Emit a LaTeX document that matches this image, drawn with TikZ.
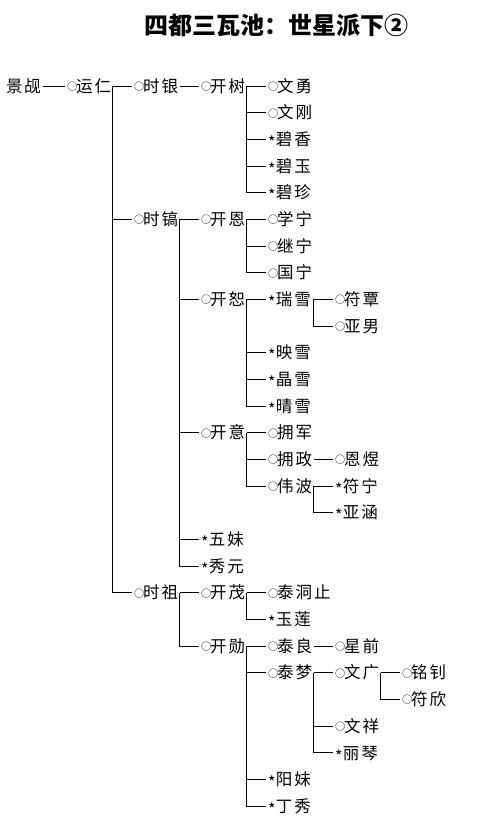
\documentclass[tikz,border=0pt]{standalone}
\usepackage{fontspec}
\setmainfont{Noto Sans CJK SC}
\usepackage{tikz}
\usetikzlibrary{positioning, calc}

\newcommand{\ml}{\raisebox{1.7pt}{\fontsize{10.2}{10.2}\selectfont ○}\kern-1pt}
\newcommand{\fm}{\raisebox{-3pt}{\fontsize{16}{16}\selectfont *}\kern0.5pt}

\begin{document}
\begin{tikzpicture}[
    x=67pt, y=-26.67pt,
    person/.style={anchor=west, inner sep=0pt, outer sep=2pt, text height=13pt, text depth=0.5pt, font=\fontsize{16.5}{18}\selectfont\addfontfeature{LetterSpace=12}},
    heading/.style={font=\fontsize{24}{28}\selectfont\bfseries},
    link/.style={line width=0.9pt}
]
\useasboundingbox (0pt,0pt) rectangle (483pt,-824pt);
\node[heading] (head) at (276pt,-25pt) {四都三瓦池：世星派下②};
\node[person] (jingguan) at (4pt,-86pt) {景觇};
\begin{scope}[shift={(-2pt,-59.33pt)}]
% generation 1 and 2
\node[person] (yunren) at (1,1) {\ml 运仁};
\node[person] (shiyin) at (2,1) {\ml 时银};
\node[person] (shigao) at (2,6) {\ml 时镐};
\node[person] (shizu) at (2,20) {\ml 时祖};
% generation 3
\node[person] (kaishu) at (3,1) {\ml 开树};
\node[person] (kaien) at (3,6) {\ml 开恩};
\node[person] (kaishuu) at (3,9) {\ml 开恕};
\node[person] (kaiyi) at (3,14) {\ml 开意};
\node[person] (wumei) at (3,18) {\fm 五妹};
\node[person] (xiuyuan) at (3,19) {\fm 秀元};
\node[person] (kaimao) at (3,20) {\ml 开茂};
\node[person] (kaixun) at (3,22) {\ml 开勋};
% generation 4
\node[person] (wenyong) at (4,1) {\ml 文勇};
\node[person] (wengang) at (4,2) {\ml 文刚};
\node[person] (bixiang) at (4,3) {\fm 碧香};
\node[person] (biyu) at (4,4) {\fm 碧玉};
\node[person] (bizhen) at (4,5) {\fm 碧珍};
\node[person] (xuening) at (4,6) {\ml 学宁};
\node[person] (jining) at (4,7) {\ml 继宁};
\node[person] (guoning) at (4,8) {\ml 国宁};
\node[person] (ruixue) at (4,9) {\fm 瑞雪};
\node[person] (yingxue) at (4,11) {\fm 映雪};
\node[person] (jingxue) at (4,12) {\fm 晶雪};
\node[person] (qingxue) at (4,13) {\fm 晴雪};
\node[person] (yongjun) at (4,14) {\ml 拥军};
\node[person] (yongzheng) at (4,15) {\ml 拥政};
\node[person] (weibo) at (4,16) {\ml 伟波};
\node[person] (taidongzhi) at (4,20) {\ml 泰洞止};
\node[person] (yulian) at (4,21) {\fm 玉莲};
\node[person] (tailiang) at (4,22) {\ml 泰良};
\node[person] (taimeng) at (4,23) {\ml 泰梦};
\node[person] (yangmei) at (4,27) {\fm 阳妹};
\node[person] (dingxiu) at (4,28) {\fm 丁秀};
% generation 5 and 6
\node[person] (futan) at (5,9) {\ml 符覃};
\node[person] (yanan) at (5,10) {\ml 亚男};
\node[person] (enyu) at (5,15) {\ml 恩煜};
\node[person] (funing) at (5,16) {\fm 符宁};
\node[person] (yahan) at (5,17) {\fm 亚涵};
\node[person] (xingqian) at (5,22) {\ml 星前};
\node[person] (wenguang) at (5,23) {\ml 文广};
\node[person] (wenxiang) at (5,25) {\ml 文祥};
\node[person] (liqin) at (5,26) {\fm 丽琴};
\node[person] (mingzhao) at (6,23) {\ml 铭钊};
\node[person] (fuxin) at (6,24) {\ml 符欣};
\end{scope}
% parent to first child
\foreach \a/\b in {jingguan/yunren,yunren/shiyin,shiyin/kaishu,kaishu/wenyong,shigao/kaien,kaien/xuening,kaishuu/ruixue,ruixue/futan,kaiyi/yongjun,yongzheng/enyu,weibo/funing,shizu/kaimao,kaimao/taidongzhi,kaixun/tailiang,tailiang/xingqian,taimeng/wenguang,wenguang/mingzhao}
  \draw[link] (\a.east) -- (\b.west);
% first child down to its siblings
\foreach \a/\b in {shiyin/shigao,shiyin/shizu,wenyong/wengang,wenyong/bixiang,wenyong/biyu,wenyong/bizhen,kaien/kaishuu,kaien/kaiyi,kaien/wumei,kaien/xiuyuan,xuening/jining,xuening/guoning,ruixue/yingxue,ruixue/jingxue,ruixue/qingxue,futan/yanan,yongjun/yongzheng,yongjun/weibo,funing/yahan,kaimao/kaixun,taidongzhi/yulian,tailiang/taimeng,tailiang/yangmei,tailiang/dingxiu,wenguang/wenxiang,wenguang/liqin,mingzhao/fuxin}
  \draw[link] ([xshift=-20pt]\a.west) |- (\b.west);
\end{tikzpicture}
\end{document}
